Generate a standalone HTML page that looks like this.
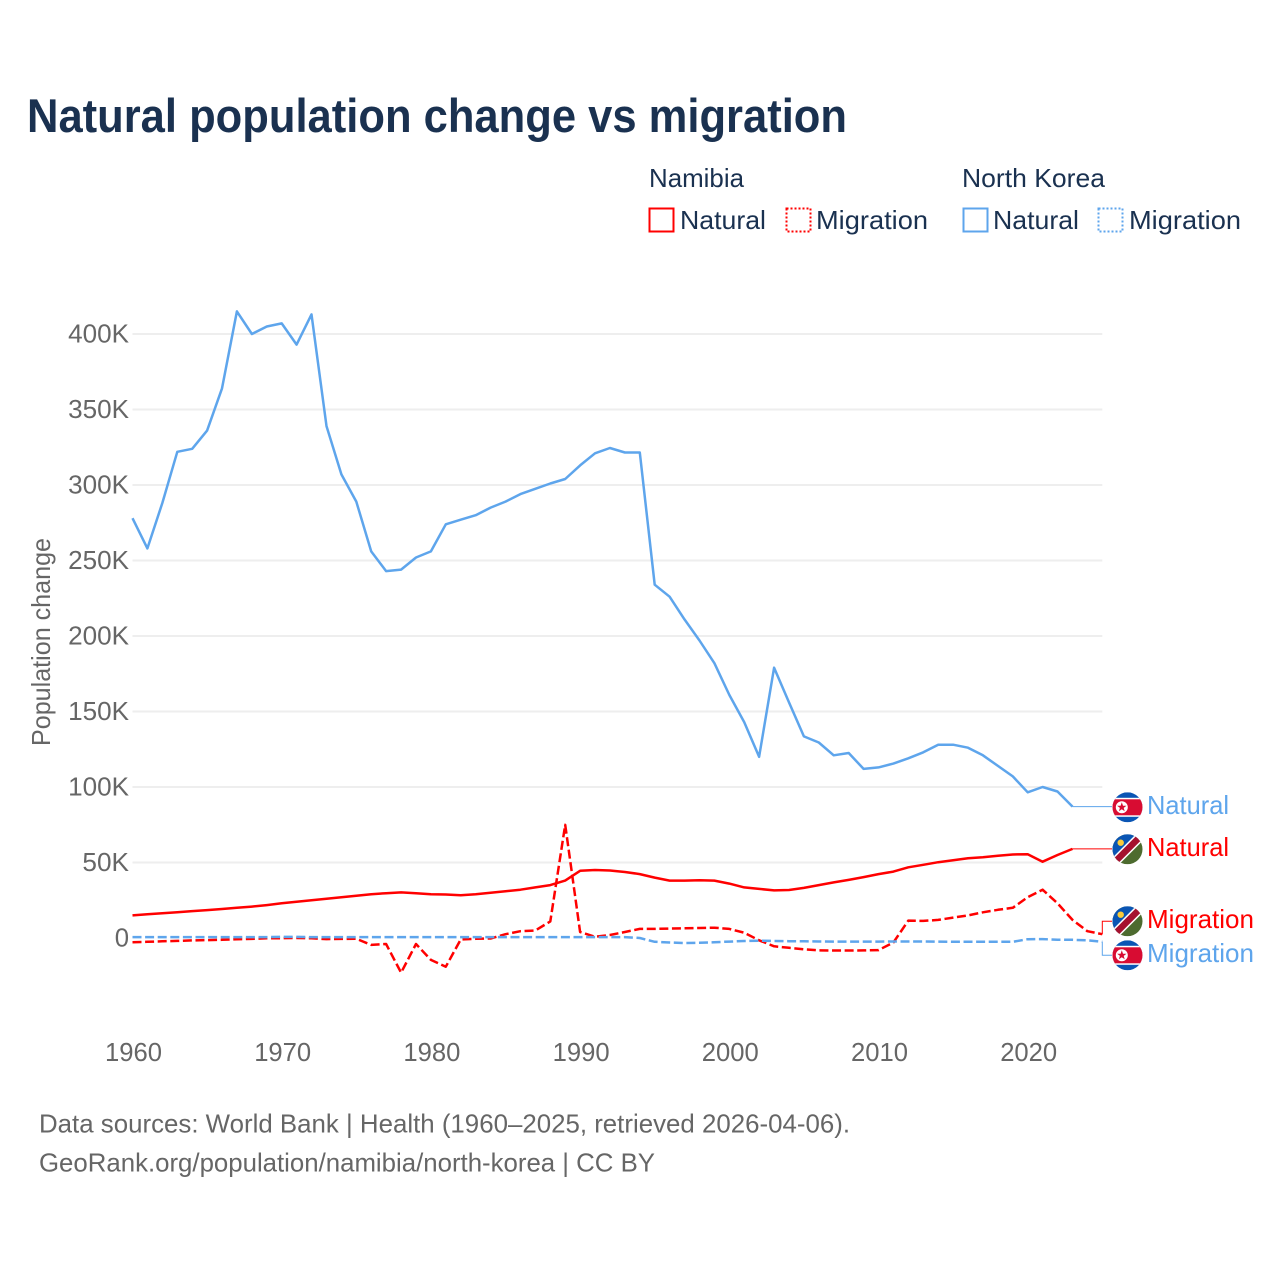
<!DOCTYPE html>
<html><head><meta charset="utf-8"><title>Natural population change vs migration</title>
<style>html,body{margin:0;padding:0;background:#fff}svg{display:block}text{font-family:"Liberation Sans",sans-serif}</style></head>
<body>
<svg id="chart" xmlns="http://www.w3.org/2000/svg" width="1280" height="1280" viewBox="0 0 1280 1280">
<defs>
<clipPath id="flag-clip"><circle cx="0" cy="0" r="15"/></clipPath>
<g id="flag-nk" clip-path="url(#flag-clip)"><rect x="-15" y="-15" width="30" height="30" fill="#0a55b4"/><rect x="-15" y="-9.5" width="30" height="19" fill="#fff"/><rect x="-15" y="-8" width="30" height="16" fill="#d80c32"/><circle cx="-5.7" cy="0" r="6" fill="#fff"/><polygon points="-5.7,-5 -4.5,-1.6 -1,-1.6 -3.8,0.6 -2.8,4 -5.7,2 -8.6,4 -7.6,0.6 -10.4,-1.6 -6.9,-1.6" fill="#d80c32"/></g>
<g id="flag-na" clip-path="url(#flag-clip)"><rect x="-15" y="-15" width="30" height="30" fill="#4d6b2f"/><polygon points="-15,15 -15,-15 15,-15" fill="#0a55b4"/><line x1="-17" y1="17" x2="17" y2="-17" stroke="#fff" stroke-width="9.5"/><line x1="-17" y1="17" x2="17" y2="-17" stroke="#a5112f" stroke-width="6.5"/><circle cx="-6.8" cy="-6.6" r="3.2" fill="#fbcb3a"/></g>
</defs>
<text x="27" y="132" font-size="47" font-weight="bold" fill="#1a3150" textLength="820" lengthAdjust="spacingAndGlyphs">Natural population change vs migration</text>
<g>
<text x="649" y="187" font-size="26" fill="#1a3150" textLength="95" lengthAdjust="spacingAndGlyphs">Namibia</text>
<text x="962" y="187" font-size="26" fill="#1a3150" textLength="143" lengthAdjust="spacingAndGlyphs">North Korea</text>
<rect x="649.5" y="208.5" width="24" height="23" fill="none" stroke="#ff0000" stroke-width="2"/>
<text x="680" y="229" font-size="26" fill="#1a3150" textLength="86" lengthAdjust="spacingAndGlyphs">Natural</text>
<rect x="786.5" y="208.5" width="24" height="23" fill="none" stroke="#ff0000" stroke-width="2" stroke-dasharray="2 2"/>
<text x="816" y="229" font-size="26" fill="#1a3150" textLength="112" lengthAdjust="spacingAndGlyphs">Migration</text>
<rect x="963.5" y="208.5" width="24" height="23" fill="none" stroke="#5ea5ec" stroke-width="2"/>
<text x="993" y="229" font-size="26" fill="#1a3150" textLength="86" lengthAdjust="spacingAndGlyphs">Natural</text>
<rect x="1098.5" y="208.5" width="24" height="23" fill="none" stroke="#5ea5ec" stroke-width="2" stroke-dasharray="2 2"/>
<text x="1129" y="229" font-size="26" fill="#1a3150" textLength="112" lengthAdjust="spacingAndGlyphs">Migration</text>
</g>
<text transform="translate(50,746) rotate(-90)" font-size="26" fill="#666" textLength="208" lengthAdjust="spacingAndGlyphs">Population change</text>
<g id="grid"></g>
<g id="ylabels"></g>
<g id="xlabels"></g>
<g id="series"></g>
<g>
<use href="#flag-nk" x="1127.5" y="807.3"/>
<use href="#flag-na" x="1127.5" y="849.3"/>
<use href="#flag-na" x="1127.5" y="921.3"/>
<use href="#flag-nk" x="1127.5" y="955.3"/>
<text x="1147" y="814" font-size="26" fill="#5ea5ec" textLength="82" lengthAdjust="spacingAndGlyphs">Natural</text>
<text x="1147" y="856" font-size="26" fill="#ff0000" textLength="82" lengthAdjust="spacingAndGlyphs">Natural</text>
<text x="1147" y="928" font-size="26" fill="#ff0000" textLength="107" lengthAdjust="spacingAndGlyphs">Migration</text>
<text x="1147" y="962" font-size="26" fill="#5ea5ec" textLength="107" lengthAdjust="spacingAndGlyphs">Migration</text>
</g>
<text x="39" y="1132.5" font-size="26" fill="#666" textLength="811" lengthAdjust="spacingAndGlyphs">Data sources: World Bank | Health (1960–2025, retrieved 2026-04-06).</text>
<text x="39" y="1171.5" font-size="26" fill="#666" textLength="616" lengthAdjust="spacingAndGlyphs">GeoRank.org/population/namibia/north-korea | CC BY</text>
</svg>
<script>
const startYear = 1960;
const yTickValues = [0, 50, 100, 150, 200, 250, 300, 350, 400];
const yTickLabels = ["0", "50K", "100K", "150K", "200K", "250K", "300K", "350K", "400K"];
const xTickValues = [1960, 1970, 1980, 1990, 2000, 2010, 2020];
const xTickLabels = ["1960", "1970", "1980", "1990", "2000", "2010", "2020"];
const northKoreaNatural = [278,258,288,322,324,336,364,415,400,405,
407,393,413,339,307,289,256,243,244,252,
256,274,277,280,285,289,294,297.5,301,304,
313,321,324.5,321.5,321.5,234,226,211,197,182,
161,143,120,179,156,133.5,129.5,121,122.5,112,
113,115.5,119,123,128,128,126,121,114,107,
96.5,100,97,87];
const namibiaNatural = [15,15.7,16.4,17.1,17.8,18.5,19.2,20,20.8,21.8,
23,24,25,26,27,28,29,29.7,30.2,29.7,
29,28.8,28.3,29,30,31,32,33.5,35,38,
44.5,45,44.7,43.7,42.3,40,38,38,38.2,38,
36,33.5,32.5,31.5,31.8,33.2,35,36.8,38.5,40.3,
42.3,44,46.8,48.5,50.2,51.5,52.8,53.5,54.5,55.3,
55.5,50.5,55,59];
const namibiaMigration = [-2.8,-2.5,-2.2,-1.9,-1.6,-1.4,-1.2,-0.8,-0.6,-0.2,
-0.1,0,-0.2,-0.7,-0.6,-0.5,-4.6,-4,-23,-4,
-14.5,-19,-1,-0.5,-0.3,2.5,4.5,5,11,75,
4,0.8,2,4,6,6,6.2,6.4,6.6,6.8,
6,3.5,-1.5,-5.5,-6.5,-7.5,-8.2,-8.3,-8.3,-8.2,
-8,-3,11.5,11.3,12,13.5,15,17,18.7,20,
27,32,23,12,4.5,2.5];
const northKoreaMigration = [0.6,0.6,0.6,0.6,0.6,0.6,0.6,0.6,0.6,0.6,
0.7,0.7,0.6,0.6,0.6,0.6,0.6,0.6,0.6,0.6,
0.6,0.6,0.6,0.6,0.6,0.6,0.6,0.6,0.6,0.6,
0.6,0.6,0.6,0.6,0,-2.5,-3,-3.3,-3.2,-2.8,
-2.4,-2,-1.8,-2,-2.1,-2.2,-2.3,-2.4,-2.4,-2.4,
-2.4,-2.3,-2.3,-2.3,-2.4,-2.5,-2.5,-2.5,-2.5,-2.5,
-0.8,-0.7,-1.1,-1.2,-1.5,-2.5];

const NS = 'http://www.w3.org/2000/svg';
const xScale = year => 132.5 + (year - 1960) * 14.92;
const yScale = value => 938 - value * 1.51;
const glyphWidth = s => [...s].reduce((w, c) => w + (c === 'K' ? 18 : 14.3), 0);

const grid = document.getElementById('grid');
const ylabels = document.getElementById('ylabels');
yTickValues.forEach((v, i) => {
  if (v !== 0) {
    const ln = document.createElementNS(NS, 'line');
    
    
    ln.setAttribute('x1', xScale(1960));
    ln.setAttribute('x2', xScale(2025));
    ln.setAttribute('y1', yScale(v));
    ln.setAttribute('y2', yScale(v));
    ln.setAttribute('stroke', '#eeeeee');
    ln.setAttribute('stroke-width', '2');
    grid.appendChild(ln);
  }
  const t = document.createElementNS(NS, 'text');
  
  
  t.setAttribute('x', 129);
  t.setAttribute('y', yScale(v) + 8.5);
  t.setAttribute('text-anchor', 'end');
  t.setAttribute('font-size', '26');
  t.setAttribute('fill', '#666');
  t.setAttribute('textLength', glyphWidth(yTickLabels[i]));
  t.setAttribute('lengthAdjust', 'spacingAndGlyphs');
  t.textContent = yTickLabels[i];
  ylabels.appendChild(t);
});
const xlabels = document.getElementById('xlabels');
xTickValues.forEach((yr, i) => {
  const t = document.createElementNS(NS, 'text');
  
  
  t.setAttribute('x', xScale(yr) + 1);
  t.setAttribute('y', 1061);
  t.setAttribute('text-anchor', 'middle');
  t.setAttribute('font-size', '26');
  t.setAttribute('fill', '#666');
  t.setAttribute('textLength', 57);
  t.setAttribute('lengthAdjust', 'spacingAndGlyphs');
  t.textContent = xTickLabels[i];
  xlabels.appendChild(t);
});

const seriesGroup = document.getElementById('series');
function pointsFor(values) {
  return values.map((v, i) => xScale(startYear + i).toFixed(1) + ',' + yScale(v).toFixed(1));
}
function drawSeries(values, color, dashed, name, leaderTo) {
  const p = document.createElementNS(NS, 'polyline');
  
  
  p.setAttribute('points', pointsFor(values).join(' '));
  p.setAttribute('fill', 'none');
  p.setAttribute('stroke', color);
  p.setAttribute('stroke-width', '2.5');
  p.setAttribute('stroke-linejoin', 'round');
  if (dashed) p.setAttribute('stroke-dasharray', '9 3.6');
  seriesGroup.appendChild(p);
  const lastX = xScale(startYear + values.length - 1);
  const lastY = yScale(values[values.length - 1]);
  const l = document.createElementNS(NS, 'polyline');
  
  
  const pts = Math.abs(leaderTo - lastY) < 1
    ? [lastX + ',' + lastY, '1112,' + lastY]
    : [lastX + ',' + lastY, lastX + ',' + leaderTo, '1112,' + leaderTo];
  l.setAttribute('points', pts.join(' '));
  l.setAttribute('fill', 'none');
  l.setAttribute('stroke', color);
  l.setAttribute('stroke-width', '1');
  seriesGroup.appendChild(l);
}
drawSeries(namibiaMigration, '#ff0000', true, 'line-namibia-migration', 921.3);
drawSeries(northKoreaMigration, '#5ea5ec', true, 'line-north-korea-migration', 955.3);
drawSeries(namibiaNatural, '#ff0000', false, 'line-namibia-natural', 849);
drawSeries(northKoreaNatural, '#5ea5ec', false, 'line-north-korea-natural', 807);
</script>
</body></html>
